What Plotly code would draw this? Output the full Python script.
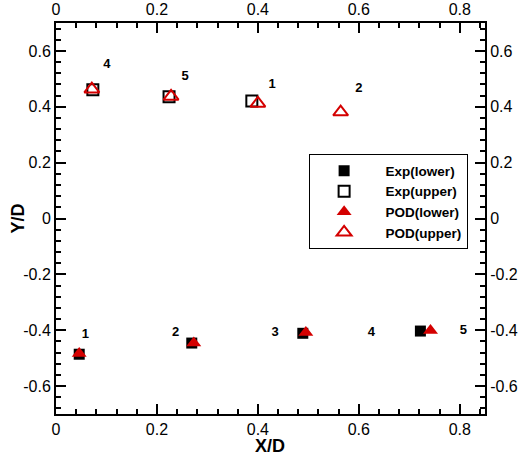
import plotly.graph_objects as go

# Data
exp_lower_x = [0.046, 0.269, 0.489, 0.722]
exp_lower_y = [-0.486, -0.446, -0.411, -0.403]
exp_upper_x = [0.073, 0.224, 0.388]
exp_upper_y = [0.461, 0.436, 0.421]
pod_lower_x = [0.046, 0.273, 0.495, 0.742]
pod_lower_y = [-0.483, -0.446, -0.408, -0.401]
pod_upper_x = [0.071, 0.228, 0.400, 0.564]
pod_upper_y = [0.463, 0.437, 0.412, 0.381]

upper_labels = ["4", "5", "1", "2"]
upper_label_x = [0.101, 0.256, 0.428, 0.600]
upper_label_y = [0.550, 0.507, 0.478, 0.464]
lower_labels = ["1", "2", "3", "4", "5"]
lower_label_x = [0.058, 0.237, 0.434, 0.625, 0.807]
lower_label_y = [-0.415, -0.410, -0.410, -0.410, -0.403]

x_tickvals = [0, 0.2, 0.4, 0.6, 0.8]
x_ticktext = ["0", "0.2", "0.4", "0.6", "0.8"]
y_tickvals = [-0.6, -0.4, -0.2, 0, 0.2, 0.4, 0.6]
y_ticktext = ["-0.6", "-0.4", "-0.2", "0", "0.2", "0.4", "0.6"]

FONT = "Liberation Sans, Arial, sans-serif"
RED = "#d40000"
NB = "\u00a0" * 2

fig = go.Figure()
fig.add_trace(go.Scatter(x=exp_lower_x, y=exp_lower_y, mode="markers", name=NB + "Exp(lower)",
                         marker=dict(symbol="square", size=11, color="black")))
fig.add_trace(go.Scatter(x=exp_upper_x, y=exp_upper_y, mode="markers", name=NB + "Exp(upper)",
                         marker=dict(symbol="square-open", size=11, color="black", line=dict(width=2, color="black"))))
fig.add_trace(go.Scatter(x=pod_lower_x, y=pod_lower_y, mode="markers", name=NB + "POD(lower)",
                         marker=dict(symbol="triangle-up", size=13, color=RED)))
fig.add_trace(go.Scatter(x=pod_upper_x, y=pod_upper_y, mode="markers", name=NB + "POD(upper)",
                         marker=dict(symbol="triangle-up-open", size=13, color=RED, line=dict(width=2, color=RED))))
fig.add_trace(go.Scatter(x=upper_label_x + lower_label_x, y=upper_label_y + lower_label_y,
                         mode="text", text=upper_labels + lower_labels, showlegend=False,
                         textfont=dict(family=FONT, size=13, color="black", weight="bold"),
                         hoverinfo="skip"))
# invisible trace on mirrored axes so top/right labelled axes are drawn
fig.add_trace(go.Scatter(x=[0], y=[0], xaxis="x2", yaxis="y2", mode="markers",
                         marker=dict(opacity=0), showlegend=False, hoverinfo="skip"))

axis_common = dict(
    showgrid=False, zeroline=False, showline=True, linecolor="black", linewidth=2,
    ticks="inside", ticklen=10, tickwidth=2, tickcolor="black", automargin=False,
    tickfont=dict(family=FONT, size=16, color="black"),
    minor=dict(ticks="inside", ticklen=5, tickwidth=1.5, tickcolor="black", dtick=0.04),
)

fig.update_layout(
    width=521, height=461,
    margin=dict(l=56, r=36, t=23, b=47),
    plot_bgcolor="white", paper_bgcolor="white",
    font=dict(family=FONT, color="black"),
    xaxis=dict(range=[0, 0.85], tickvals=x_tickvals, ticktext=x_ticktext, mirror=True, **axis_common),
    yaxis=dict(range=[-0.7, 0.7], tickvals=y_tickvals, ticktext=y_ticktext, mirror=True, **axis_common),
    xaxis2=dict(range=[0, 0.85], tickvals=x_tickvals, ticktext=x_ticktext,
                overlaying="x", side="top", anchor="y", **axis_common),
    yaxis2=dict(range=[-0.7, 0.7], tickvals=y_tickvals, ticktext=y_ticktext,
                overlaying="y", side="right", anchor="x", **axis_common),
    legend=dict(x=0.59, y=0.664, xanchor="left", yanchor="top",
                bordercolor="black", borderwidth=1, bgcolor="white",
                font=dict(family=FONT, size=13.5, color="black", weight="bold"),
                tracegroupgap=0, itemwidth=58),
    showlegend=True,
    annotations=[
        dict(text="<b>X/D</b>", xref="paper", yref="paper", x=0.498, y=-0.083,
             xanchor="center", yanchor="middle", showarrow=False,
             font=dict(family=FONT, size=18, color="black")),
        dict(text="<b>Y/D</b>", xref="paper", yref="paper", x=-0.0897, y=0.499,
             xanchor="center", yanchor="middle", showarrow=False, textangle=-90,
             font=dict(family=FONT, size=18, color="black")),
    ],
)

fig.write_html("out.html", config={"displayModeBar": False},
               post_script="document.body.style.margin='0';")
